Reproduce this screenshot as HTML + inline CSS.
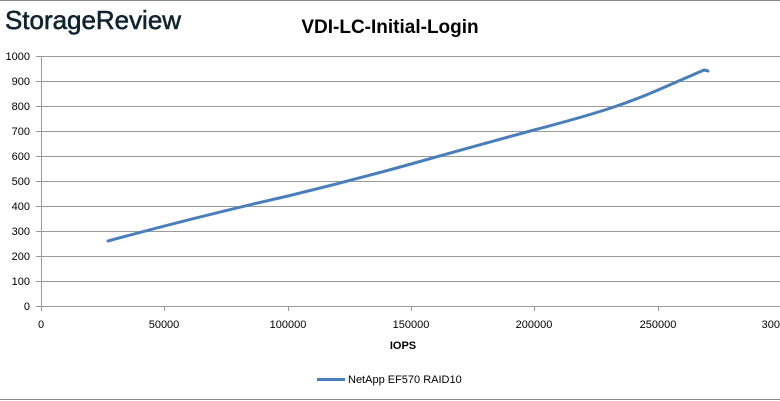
<!DOCTYPE html>
<html><head><style>
body{margin:0;background:#fff;}
svg{display:block;font-family:"Liberation Sans",sans-serif;}
</style></head><body>
<svg width="780" height="401" viewBox="0 0 780 401">
<rect width="780" height="401" fill="#fff"/>
<line x1="0" y1="0.5" x2="780" y2="0.5" stroke="#888" stroke-width="1"/>
<line x1="0" y1="399.5" x2="780" y2="399.5" stroke="#888" stroke-width="1"/>
<text x="5" y="29" font-size="26" fill="#102530" stroke="#102530" stroke-width="0.6" textLength="176" lengthAdjust="spacingAndGlyphs">StorageReview</text>
<text x="390" y="33" font-size="19" font-weight="bold" text-anchor="middle" fill="#000">VDI-LC-Initial-Login</text>
<g stroke="#999" stroke-width="1">
<line x1="36" y1="56.5" x2="780" y2="56.5"/>
<line x1="36" y1="81.5" x2="780" y2="81.5"/>
<line x1="36" y1="106.5" x2="780" y2="106.5"/>
<line x1="36" y1="131.5" x2="780" y2="131.5"/>
<line x1="36" y1="156.5" x2="780" y2="156.5"/>
<line x1="36" y1="181.5" x2="780" y2="181.5"/>
<line x1="36" y1="206.5" x2="780" y2="206.5"/>
<line x1="36" y1="231.5" x2="780" y2="231.5"/>
<line x1="36" y1="256.5" x2="780" y2="256.5"/>
<line x1="36" y1="281.5" x2="780" y2="281.5"/>
<line x1="36" y1="306.5" x2="780" y2="306.5"/>
<line x1="41.5" y1="56" x2="41.5" y2="311"/>
<line x1="164.5" y1="306" x2="164.5" y2="311"/>
<line x1="288.5" y1="306" x2="288.5" y2="311"/>
<line x1="411.5" y1="306" x2="411.5" y2="311"/>
<line x1="534.5" y1="306" x2="534.5" y2="311"/>
<line x1="658.5" y1="306" x2="658.5" y2="311"/>
</g>
<g font-size="11" fill="#000" text-anchor="end">
<text x="30" y="60">1000</text><text x="30" y="85">900</text><text x="30" y="110">800</text>
<text x="30" y="135">700</text><text x="30" y="160">600</text><text x="30" y="185">500</text>
<text x="30" y="210">400</text><text x="30" y="235">300</text><text x="30" y="260">200</text>
<text x="30" y="285">100</text><text x="30" y="310">0</text>
</g>
<g font-size="11" fill="#000" text-anchor="middle">
<text x="41" y="328">0</text><text x="164" y="328">50000</text><text x="288" y="328">100000</text>
<text x="411" y="328">150000</text><text x="534" y="328">200000</text><text x="658" y="328">250000</text>
<text x="780" y="328">300000</text>
</g>
<text x="403" y="349" font-size="11" font-weight="bold" text-anchor="middle">IOPS</text>
<path d="M108,241 Q200,216 288,196 Q350,181 411,164 Q475,146 534,130 Q580,118 611,108 Q635,100 658,90 L704,70 L708,71" fill="none" stroke="#4a7ebb" stroke-width="3" stroke-linecap="round" stroke-linejoin="round"/>
<line x1="317" y1="379.5" x2="345" y2="379.5" stroke="#4a7ebb" stroke-width="3"/>
<text x="348" y="383" font-size="11" fill="#000">NetApp EF570 RAID10</text>
</svg>
</body></html>
